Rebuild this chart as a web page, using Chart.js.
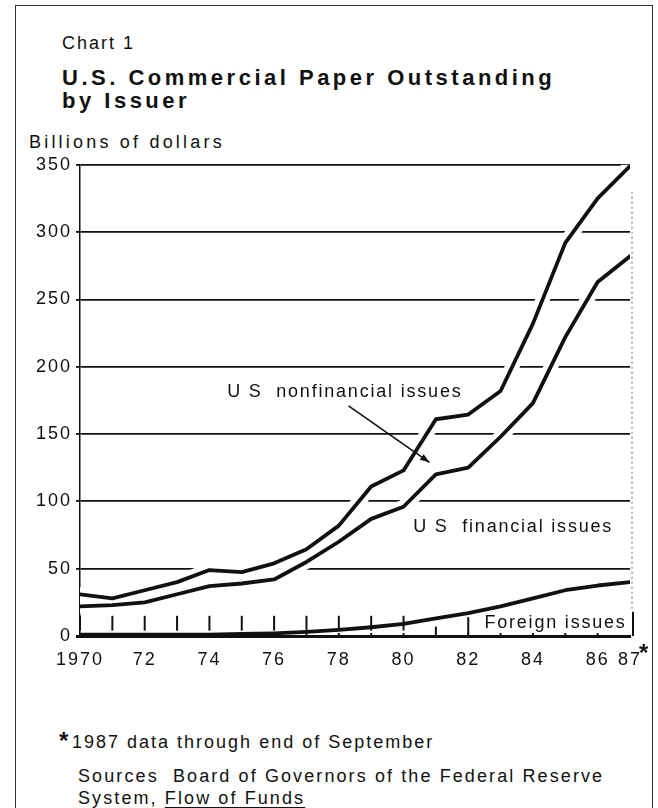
<!DOCTYPE html>
<html>
<head>
<meta charset="utf-8">
<script src="https://cdn.jsdelivr.net/npm/chart.js@4.4.0/dist/chart.umd.min.js"></script>
<style>
  html, body { margin: 0; padding: 0; background: #fff; }
  body { width: 658px; height: 808px; position: relative; overflow: hidden;
         font-family: "Liberation Sans", Arial, sans-serif; color: #111; }
  .frame { position: absolute; left: 15px; top: 5px; width: 638px; height: 830px;
           border: 1.5px solid #333; box-sizing: border-box; }
  .t { position: absolute; white-space: nowrap; font-size: 18px; letter-spacing: 2px; line-height: 20px; }
  .title { font-weight: bold; font-size: 22px; letter-spacing: 3.5px; line-height: 24px; }
  .star { position: absolute; font-weight: bold; font-size: 24px; line-height: 24px; }
  #wrap { position: absolute; left: 0; top: 150px; width: 658px; height: 520px; }
</style>
</head>
<body>
<div class="frame"></div>
<div class="t" style="left:62px; top:33px;">Chart 1</div>
<div class="t title" style="left:62px; top:66px;">U.S. Commercial Paper Outstanding</div>
<div class="t title" style="left:62px; top:89px;">by Issuer</div>
<div class="t" style="left:29px; top:132px; letter-spacing:3.2px;">Billions of dollars</div>

<div id="wrap"><canvas id="paperChart"></canvas></div>

<div class="star" style="left:639px; top:641px;">*</div>
<div class="star" style="left:59px; top:729px;">*</div>
<div class="t" style="left:72px; top:732px;">1987 data through end of September</div>
<div class="t" style="left:78px; top:766px; letter-spacing:2.1px;">Sources&nbsp; Board of Governors of the Federal Reserve</div>
<div class="t" style="left:78px; top:788px; letter-spacing:2.1px;">System, <span style="text-decoration:underline; text-underline-offset:3px;">Flow of Funds</span></div>

<script>
// values, billions of dollars
const years = [1970, 1971, 1972, 1973, 1974, 1975, 1976, 1977, 1978, 1979, 1980, 1981, 1982, 1983, 1984, 1985, 1986, 1987];
const foreignIssues = [1, 1, 1, 1, 1, 1.5, 2, 3, 4.5, 6.5, 9, 13, 17, 22, 28, 34, 37.5, 40];
const financialIssues = [21, 22, 24, 30, 36, 37.5, 40, 52, 65.5, 80.5, 87, 107, 108, 126, 145, 188, 225.5, 242];
const nonfinancialIssues = [9, 5, 9, 9, 12, 8.5, 12, 9.5, 12, 24, 27, 41, 39.5, 34, 59, 70, 62, 67];
const yTicks = [0, 50, 100, 150, 200, 250, 300, 350];
const xTickYears = [1970, 1972, 1974, 1976, 1978, 1980, 1982, 1984, 1986, 1987];

const INK = '#111';
const FONT = '"Liberation Sans", Arial, sans-serif';

function points(values) {
	return years.map(function(yr, i) { return { x: yr, y: values[i] }; });
}

function inkLine(values, stack) {
	return {
		data: points(values),
		stack: stack,
		borderColor: stack === 'halo' ? '#fff' : INK,
		borderWidth: stack === 'halo' ? 14 : 3.8,
		pointRadius: 0,
		tension: 0,
		fill: false,
		borderJoinStyle: 'round',
		borderCapStyle: 'round',
		order: stack === 'halo' ? 2 : 1
	};
}

// white halo under the lines, so the grid looks knocked out like the print
const haloDatasets = [
	Object.assign(inkLine(foreignIssues, 'halo'), { borderWidth: 0 }),
	inkLine(financialIssues, 'halo'),
	inkLine(nonfinancialIssues, 'halo')
];
const lineDatasets = [
	inkLine(foreignIssues, 'ink'),
	inkLine(financialIssues, 'ink'),
	inkLine(nonfinancialIssues, 'ink')
];

function stroke(ctx, x1, y1, x2, y2) {
	ctx.beginPath();
	ctx.moveTo(x1, y1);
	ctx.lineTo(x2, y2);
	ctx.stroke();
}

const decorPlugin = {
	id: 'decor',
	beforeDraw: function(chart) {
		chart.ctx.letterSpacing = '2px';
	},
	afterDatasetsDraw: function(chart) {
		const ctx = chart.ctx;
		const x = chart.scales.x;
		const y = chart.scales.y;
		const area = chart.chartArea;
		ctx.save();
		ctx.strokeStyle = INK;
		ctx.fillStyle = INK;

		// year tick marks along the bottom
		ctx.lineWidth = 2;
		years.forEach(function(yr) {
			const px = x.getPixelForValue(yr);
			if (yr <= 1980) {
				stroke(ctx, px, y.getPixelForValue(4), px, y.getPixelForValue(15));
			} else if (yr === 1981) {
				stroke(ctx, px, y.getPixelForValue(2), px, y.getPixelForValue(7));
			} else if (yr === 1982) {
				stroke(ctx, px, y.getPixelForValue(0), px, y.getPixelForValue(14));
			}
			if (yr > 1970 && yr < 1987) {
				stroke(ctx, px, y.getPixelForValue(0), px, y.getPixelForValue(2.2));
			}
		});
		// bracket at the right of "Foreign issues"
		stroke(ctx, area.right + 3, y.getPixelForValue(0), area.right + 3, y.getPixelForValue(18));

		// dotted right edge
		ctx.lineWidth = 1;
		ctx.strokeStyle = '#666';
		ctx.setLineDash([2, 3]);
		stroke(ctx, area.right + 2, y.getPixelForValue(330), area.right + 2, y.getPixelForValue(20));
		ctx.setLineDash([]);

		// labels
		ctx.font = '18px ' + FONT;
		ctx.letterSpacing = '1.8px';
		ctx.textBaseline = 'middle';
		ctx.textAlign = 'left';
		ctx.fillText('U S  nonfinancial issues', x.getPixelForValue(1974.55), y.getPixelForValue(181));
		ctx.fillText('U S  financial issues', x.getPixelForValue(1980.3), y.getPixelForValue(81));
		ctx.fillText('Foreign issues', x.getPixelForValue(1982.5), y.getPixelForValue(9.6));

		// arrow to the nonfinancial band
		const ax1 = x.getPixelForValue(1978.3), ay1 = y.getPixelForValue(171);
		const ax2 = x.getPixelForValue(1980.8), ay2 = y.getPixelForValue(129);
		ctx.strokeStyle = INK;
		ctx.lineWidth = 1.6;
		stroke(ctx, ax1, ay1, ax2, ay2);
		const ang = Math.atan2(ay2 - ay1, ax2 - ax1);
		ctx.beginPath();
		ctx.moveTo(ax2, ay2);
		ctx.lineTo(ax2 - 10 * Math.cos(ang - 0.35), ay2 - 10 * Math.sin(ang - 0.35));
		ctx.lineTo(ax2 - 10 * Math.cos(ang + 0.35), ay2 - 10 * Math.sin(ang + 0.35));
		ctx.closePath();
		ctx.fill();
		ctx.restore();
	}
};

new Chart(document.getElementById('paperChart'), {
	type: 'line',
	data: { datasets: haloDatasets.concat(lineDatasets) },
	options: {
		responsive: true,
		maintainAspectRatio: false,
		animation: false,
		events: [],
		layout: { padding: { top: 14, right: 28, left: 0, bottom: 0 } },
		plugins: { legend: { display: false }, tooltip: { enabled: false } },
		scales: {
			x: {
				type: 'linear',
				min: 1970,
				max: 1987,
				afterBuildTicks: function(scale) {
					scale.ticks = xTickYears.map(function(v) { return { value: v }; });
				},
				afterFit: function(scale) { scale.height = 34; },
				grid: { display: false },
				border: { display: true, color: INK, width: 3 },
				ticks: {
					autoSkip: false,
					maxRotation: 0,
					padding: 5,
					color: INK,
					font: { family: FONT, size: 18 },
					callback: function(v) { return v === 1970 ? '1970' : String(v).slice(2); }
				}
			},
			y: {
				stacked: true,
				min: 0,
				max: 350,
				afterBuildTicks: function(scale) {
					scale.ticks = yTicks.map(function(v) { return { value: v }; });
				},
				afterFit: function(scale) { scale.width = 80; },
				grid: {
					color: INK,
					lineWidth: function(c) { return c.tick && c.tick.value === 0 ? 3 : 1.8; },
					tickLength: 4
				},
				border: { display: true, color: INK, width: 1.5 },
				ticks: {
					padding: 4,
					color: INK,
					font: { family: FONT, size: 18 }
				}
			}
		}
	},
	plugins: [decorPlugin]
});
</script>
</body>
</html>
